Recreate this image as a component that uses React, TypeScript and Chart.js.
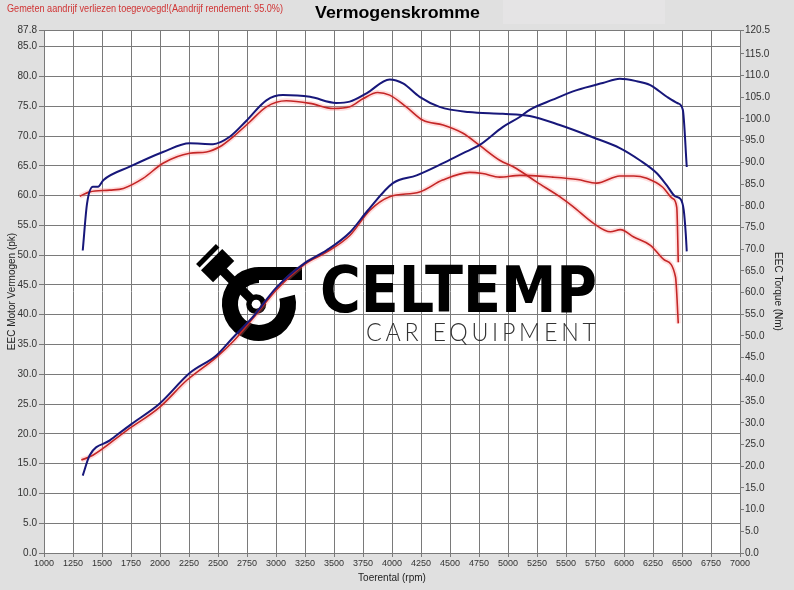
import React, { useEffect, useRef } from "react";
import { Chart, registerables } from "chart.js";

Chart.register(...registerables);

const FONT = "'Liberation Sans', Arial, sans-serif";

// ---- axis ticks ----
const rpmTicks = [1000, 1250, 1500, 1750, 2000, 2250, 2500, 2750, 3000, 3250, 3500, 3750, 4000, 4250, 4500, 4750, 5000, 5250, 5500, 5750, 6000, 6250, 6500, 6750, 7000];
const pkTicks = [0, 5, 10, 15, 20, 25, 30, 35, 40, 45, 50, 55, 60, 65, 70, 75, 80, 85, 87.8];
const nmTicks = [0, 5, 10, 15, 20, 25, 30, 35, 40, 45, 50, 55, 60, 65, 70, 75, 80, 85, 90, 95, 100, 105, 110, 115, 120.5];

// ---- series: blue run, power (pk) ----
const bluePowerRpm = [1334, 1394, 1567, 1750, 1998, 2256, 2488, 2626, 2799, 3005, 3250, 3436, 3636, 3791, 4008, 4212, 4436, 4609, 4756, 4954, 5101, 5187, 5386, 5593, 5817, 5964, 6110, 6222, 6369, 6464, 6507, 6541];
const bluePowerPk = [13.0, 16.4, 18.9, 21.6, 25.1, 30.2, 33.2, 36.1, 39.6, 44.6, 48.7, 50.8, 53.8, 57.5, 62.1, 63.4, 65.4, 67.1, 68.5, 71.5, 73.2, 74.4, 76.1, 77.7, 78.9, 79.6, 79.2, 78.6, 76.6, 75.5, 74.4, 64.8];

// ---- series: red run, power (pk) ----
const redPowerRpm = [1322, 1421, 1714, 1998, 2231, 2488, 2630, 2802, 3005, 3250, 3436, 3636, 3808, 3980, 4238, 4436, 4669, 4781, 4928, 5101, 5386, 5600, 5765, 5964, 6084, 6196, 6334, 6420, 6455, 6468];
const redPowerPk = [15.6, 16.4, 20.6, 24.5, 29.0, 32.9, 35.5, 39.4, 44.2, 48.5, 50.5, 53.3, 57.5, 59.8, 60.6, 62.6, 63.9, 63.7, 63.1, 63.4, 63.1, 62.7, 62.1, 63.3, 63.3, 62.9, 61.4, 59.5, 58.0, 48.8];

// ---- series: blue run, torque (Nm) ----
const blueTorqueRpm = [1334, 1371, 1422, 1466, 1511, 1739, 2026, 2256, 2457, 2601, 2745, 2917, 3060, 3293, 3519, 3636, 3780, 3980, 4095, 4238, 4410, 4660, 4954, 5187, 5446, 5730, 5964, 6136, 6283, 6369, 6440, 6489, 6515, 6532, 6541];
const blueTorqueNm = [69.7, 80.5, 84.4, 84.4, 85.9, 89.0, 92.4, 94.4, 94.2, 95.9, 99.6, 104.3, 105.5, 105.1, 103.7, 104.0, 105.9, 109.1, 108.2, 105.1, 102.8, 101.6, 101.2, 100.7, 98.6, 95.8, 93.3, 90.5, 87.5, 84.7, 82.2, 81.5, 79.0, 73.7, 69.5];

// ---- series: red run, torque (Nm) ----
const redTorqueRpm = [1308, 1394, 1567, 1684, 1854, 2026, 2256, 2400, 2515, 2630, 2773, 2917, 3089, 3293, 3493, 3636, 3752, 3876, 3980, 4123, 4267, 4440, 4612, 4756, 4928, 5072, 5245, 5446, 5561, 5740, 5883, 5969, 6084, 6228, 6349, 6444, 6468];
const redTorqueNm = [82.2, 83.2, 83.6, 84.0, 86.3, 89.8, 92.1, 92.4, 93.6, 95.9, 99.3, 102.8, 104.2, 103.6, 102.4, 102.8, 104.7, 106.1, 105.5, 102.8, 99.7, 98.6, 96.7, 93.9, 90.5, 88.6, 85.5, 82.1, 79.8, 75.9, 74.0, 74.5, 72.8, 70.9, 67.5, 63.6, 52.9];

const TITLE = "Vermogenskromme";
const NOTE = "Gemeten aandrijf verliezen toegevoegd!(Aandrijf rendement: 95.0%)";
const X_TITLE = "Toerental (rpm)";
const Y_TITLE = "EEC Motor Vermogen (pk)";
const Y2_TITLE = "EEC Torque (Nm)";
const LOGO_MAIN = "CELTEMP";
const LOGO_SUB = "CAR EQUIPMENT";

const BLUE = "#17177a";
const RED = "#c42626";
const RED_GLOW = "rgba(255,130,130,0.28)";
const GRID = "#7a7a7a";
const BG = "#e0e0e0";

const pts = (xs: number[], ys: number[]) => xs.map((x, i) => ({ x, y: ys[i] }));

function fitText(ctx: CanvasRenderingContext2D, text: string, x: number, y: number, width: number, font: string, color: string, spacing = 0) {
  ctx.save();
  ctx.font = font;
  (ctx as any).letterSpacing = spacing + "px";
  ctx.fillStyle = color;
  ctx.textAlign = "left";
  ctx.textBaseline = "alphabetic";
  const w = ctx.measureText(text).width - spacing;
  ctx.translate(x, y);
  ctx.scale(width / w, 1);
  ctx.fillText(text, 0, 0);
  ctx.restore();
}

const backgroundPlugin = {
  id: "bgPlugin",
  beforeDraw(chart: any) {
    const { ctx, chartArea } = chart;
    ctx.save();
    ctx.fillStyle = BG;
    ctx.fillRect(0, 0, chart.width, chart.height);
    ctx.fillStyle = "#e5e4e5";
    ctx.fillRect(503, 0, 162, 24);
    ctx.fillStyle = "#ffffff";
    ctx.fillRect(chartArea.left, chartArea.top, chartArea.right - chartArea.left, chartArea.bottom - chartArea.top);
    ctx.restore();
  },
  afterDraw(chart: any) {
    const ctx = chart.ctx;
    fitText(ctx, NOTE, 7, 12, 276, `11px ${FONT}`, "#d03434");
    fitText(ctx, TITLE, 315, 18, 165, `bold 16px ${FONT}`, "#000000");
  },
};

const logoPlugin = {
  id: "logoPlugin",
  beforeDatasetsDraw(chart: any) {
    const ctx: CanvasRenderingContext2D = chart.ctx;
    ctx.save();
    ctx.fillStyle = "#000";
    ctx.strokeStyle = "#000";
    // ring with top bar
    const cx = 259, cy = 304, r = 29, w = 16;
    ctx.lineWidth = w;
    ctx.beginPath();
    ctx.arc(cx, cy, r, -0.25, 1.5 * Math.PI);
    ctx.stroke();
    ctx.fillRect(cx - 1, cy - r - w / 2, 44, 13);
    // piston + rod
    const px = 218, py = 266;
    const ang = Math.atan2(305 - py, 257 - px);
    ctx.translate(px, py);
    ctx.rotate(ang);
    ctx.fillRect(-17, -14, 5, 28);
    ctx.fillRect(-9, -15, 17, 30);
    ctx.fillRect(6, -4.5, 44, 9);
    ctx.beginPath();
    ctx.arc(54, 0, 10, 0, Math.PI * 2);
    ctx.fill();
    ctx.fillStyle = "#fff";
    ctx.beginPath();
    ctx.arc(54, 0, 4.5, 0, Math.PI * 2);
    ctx.fill();
    ctx.restore();
    fitText(ctx, LOGO_MAIN, 320, 312, 277, `bold 64px 'DejaVu Sans', ${FONT}`, "#000000");
    fitText(ctx, LOGO_SUB, 366, 341, 230, `300 25px Lato, ${FONT}`, "#333333", 4);
  },
};

export default function App() {
  const ref = useRef<HTMLCanvasElement>(null);
  useEffect(() => {
    document.body.style.margin = "0";
    const tickFont = { family: FONT, size: 10 };
    const chart = new Chart(ref.current as HTMLCanvasElement, {
      type: "line",
      data: {
        datasets: [
          { label: "bluePower", data: pts(bluePowerRpm, bluePowerPk), yAxisID: "y", borderColor: BLUE, borderWidth: 2, pointRadius: 0, cubicInterpolationMode: "monotone" },
          { label: "blueTorque", data: pts(blueTorqueRpm, blueTorqueNm), yAxisID: "y2", borderColor: BLUE, borderWidth: 2, pointRadius: 0, cubicInterpolationMode: "monotone" },
          { label: "redPower", data: pts(redPowerRpm, redPowerPk), yAxisID: "y", borderColor: RED, borderWidth: 1.6, pointRadius: 0, cubicInterpolationMode: "monotone" },
          { label: "redTorque", data: pts(redTorqueRpm, redTorqueNm), yAxisID: "y2", borderColor: RED, borderWidth: 1.6, pointRadius: 0, cubicInterpolationMode: "monotone" },
          { label: "redPowerGlow", data: pts(redPowerRpm, redPowerPk), yAxisID: "y", borderColor: RED_GLOW, borderWidth: 5, pointRadius: 0, cubicInterpolationMode: "monotone" },
          { label: "redTorqueGlow", data: pts(redTorqueRpm, redTorqueNm), yAxisID: "y2", borderColor: RED_GLOW, borderWidth: 5, pointRadius: 0, cubicInterpolationMode: "monotone" },
        ],
      } as any,
      options: {
        animation: false,
        responsive: false,
        devicePixelRatio: window.devicePixelRatio || 1,
        layout: { padding: { top: 30, left: 0, right: 0, bottom: 0 } },
        plugins: { legend: { display: false }, tooltip: { enabled: false }, title: { display: false } },
        scales: {
          x: {
            type: "linear",
            min: 1000,
            max: 7000,
            afterBuildTicks: (s: any) => { s.ticks = rpmTicks.map((v) => ({ value: v })); },
            afterFit: (s: any) => { s.height = 37; },
            ticks: { autoSkip: false, maxRotation: 0, minRotation: 0, font: { family: FONT, size: 9 }, color: "#333", padding: 1, callback: (v: any) => String(v) },
            grid: { color: GRID, lineWidth: 1, tickLength: 4 },
            border: { color: GRID },
            title: { display: true, text: X_TITLE, font: tickFont, color: "#222", padding: { top: 0, bottom: 6 } },
          },
          y: {
            type: "linear",
            position: "left",
            min: 0,
            max: 87.8,
            afterBuildTicks: (s: any) => { s.ticks = pkTicks.map((v) => ({ value: v })); },
            afterFit: (s: any) => { s.width = 44; },
            ticks: { autoSkip: false, font: tickFont, color: "#333", padding: 2, callback: (v: any) => Number(v).toFixed(1) },
            grid: { color: GRID, lineWidth: 1, tickLength: 5 },
            border: { color: GRID },
            title: { display: true, text: Y_TITLE, font: tickFont, color: "#222", padding: { top: 6, bottom: 0 } },
          },
          y2: {
            type: "linear",
            position: "right",
            min: 0,
            max: 120.5,
            afterBuildTicks: (s: any) => { s.ticks = nmTicks.map((v) => ({ value: v })); },
            afterFit: (s: any) => { s.width = 54; },
            ticks: { autoSkip: false, font: tickFont, color: "#333", padding: 1, callback: (v: any) => Number(v).toFixed(1) },
            grid: { color: GRID, lineWidth: 1, tickLength: 4, drawOnChartArea: false },
            border: { color: GRID },
            title: { display: true, text: Y2_TITLE, font: tickFont, color: "#222", padding: { top: 10, bottom: 0 } },
          },
        },
      } as any,
      plugins: [backgroundPlugin, logoPlugin],
    });
    return () => chart.destroy();
  }, []);
  return (
    <div style={{ position: "fixed", left: 0, top: 0, width: 794, height: 590, background: BG }}>
      <canvas ref={ref} width={794} height={590} style={{ display: "block", width: 794, height: 590 }} />
    </div>
  );
}
